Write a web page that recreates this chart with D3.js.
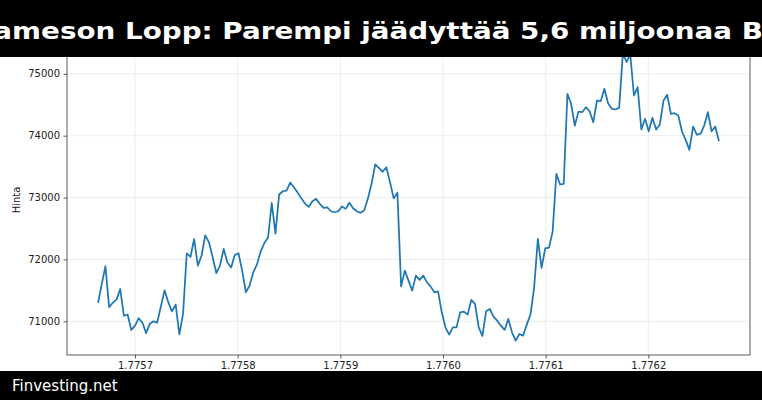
<!DOCTYPE html>
<html>
<head>
<meta charset="utf-8">
<script src="https://cdn.jsdelivr.net/npm/d3@7"></script>
<style>
html,body{margin:0;padding:0;background:#fff;}
svg{display:block;}
text{font-family:"DejaVu Sans",sans-serif;}
</style>
</head>
<body>
<script>
// ---- data ----
const titleText = "Jameson Lopp: Parempi jäädyttää 5,6 miljoonaa BTC";
const footerText = "Finvesting.net";
const yLabel = "Hinta";
const startTime = 1775664000; // unix seconds
const stepSeconds = 3600;
const prices = [
71300,71600,71890,71230,71300,71350,71520,71090,71110,70860,
70930,71050,70980,70810,70960,71000,70980,71240,71500,71310,
71160,71270,70790,71120,72100,72040,72330,71900,72060,72390,
72280,72040,71780,71900,72170,71950,71870,72070,72100,71820,
71470,71577,71792,71920,72130,72265,72355,72912,72418,73049,
73102,73113,73243,73167,73080,72987,72903,72849,72940,72979,
72899,72834,72843,72779,72763,72779,72855,72817,72915,72827,
72779,72753,72790,72979,73222,73534,73480,73416,73490,73248,
72987,73078,71565,71820,71658,71496,71739,71669,71739,71631,
71561,71469,71485,71146,70903,70785,70903,70903,71146,71157,
71108,71346,71281,70903,70764,71162,71200,71076,71011,70930,
70861,71039,70822,70688,70796,70769,70947,71108,71550,72332,
71863,72180,72190,72450,73384,73211,73222,74677,74515,74164,
74390,74379,74460,74395,74217,74568,74557,74757,74524,74434,
74423,74450,75330,75190,75320,74649,74784,74099,74272,74071,
74288,74099,74180,74568,74660,74353,74364,74326,74067,73932,
73771,74148,74018,74029,74164,74379,74071,74148,73911
];
const xTicks = [1.7757e9,1.7758e9,1.7759e9,1.7760e9,1.7761e9,1.7762e9];
const yTicks = [71000,72000,73000,74000,75000];

// ---- layout ----
const W = 762, H = 400;
const plot = {left:67, right:750, top:39, bottom:355};

const data = prices.map((p,i)=>({t:startTime+i*stepSeconds, p}));

const svg = d3.select("body").append("svg").attr("width",W).attr("height",H);

const tExt = d3.extent(data,d=>d.t), pExt = d3.extent(data,d=>d.p);
const tPad = (tExt[1]-tExt[0])*0.05, pPad = (pExt[1]-pExt[0])*0.05;
const x = d3.scaleLinear().domain([tExt[0]-tPad,tExt[1]+tPad]).range([plot.left,plot.right]);
const y = d3.scaleLinear().domain([pExt[0]-pPad,pExt[1]+pPad]).range([plot.bottom,plot.top]);

// grid
const g = svg.append("g");
g.selectAll(".vg").data(xTicks).join("line")
  .attr("x1",d=>x(d)).attr("x2",d=>x(d)).attr("y1",plot.top).attr("y2",plot.bottom)
  .attr("stroke","#e8e8e8").attr("stroke-width",0.8);
g.selectAll(".hg").data(yTicks).join("line")
  .attr("x1",plot.left).attr("x2",plot.right).attr("y1",d=>y(d)).attr("y2",d=>y(d))
  .attr("stroke","#e8e8e8").attr("stroke-width",0.8);

// line
const line = d3.line().x(d=>x(d.t)).y(d=>y(d.p));
svg.append("path").datum(data).attr("d",line)
  .attr("fill","none").attr("stroke","#1f77b4").attr("stroke-width",1.75)
  .attr("stroke-linejoin","round");

// axes
const xAxis = d3.axisBottom(x).tickValues(xTicks).tickSize(3.5).tickPadding(3.5)
  .tickFormat(d=>(d/1e9).toFixed(4));
const yAxis = d3.axisLeft(y).tickValues(yTicks).tickSize(3.5).tickPadding(3.5)
  .tickFormat(d3.format("d"));
const gx = svg.append("g").attr("transform",`translate(0,${plot.bottom})`).call(xAxis);
const gy = svg.append("g").attr("transform",`translate(${plot.left},0)`).call(yAxis);
[gx,gy].forEach(a=>{
  a.select(".domain").remove();
  a.selectAll(".tick line").attr("stroke","#333").attr("stroke-width",0.8);
  a.selectAll(".tick text").attr("fill","#222").style("font-size","10px")
   .style("font-family","'DejaVu Sans',sans-serif");
});

// frame
svg.append("rect").attr("x",plot.left).attr("y",plot.top)
  .attr("width",plot.right-plot.left).attr("height",plot.bottom-plot.top)
  .attr("fill","none").attr("stroke","#333").attr("stroke-width",0.8);

// y label
svg.append("text").attr("transform",`translate(19.5,${(plot.top+plot.bottom)/2+3}) rotate(-90)`)
  .attr("text-anchor","middle").attr("fill","#222").style("font-size","10px").text(yLabel);

// header band
svg.append("rect").attr("x",0).attr("y",0).attr("width",W).attr("height",57).attr("fill","#000");
svg.append("text").attr("transform","translate(-17,39.3) scale(1.209,1)")
  .attr("fill","#fff").style("font-size","23px").style("font-weight","bold").text(titleText);

// footer band
svg.append("rect").attr("x",0).attr("y",371).attr("width",W).attr("height",H-371).attr("fill","#000");
svg.append("text").attr("x",12).attr("y",390.5).attr("fill","#fff").style("font-size","15px").text(footerText);
</script>
</body>
</html>
